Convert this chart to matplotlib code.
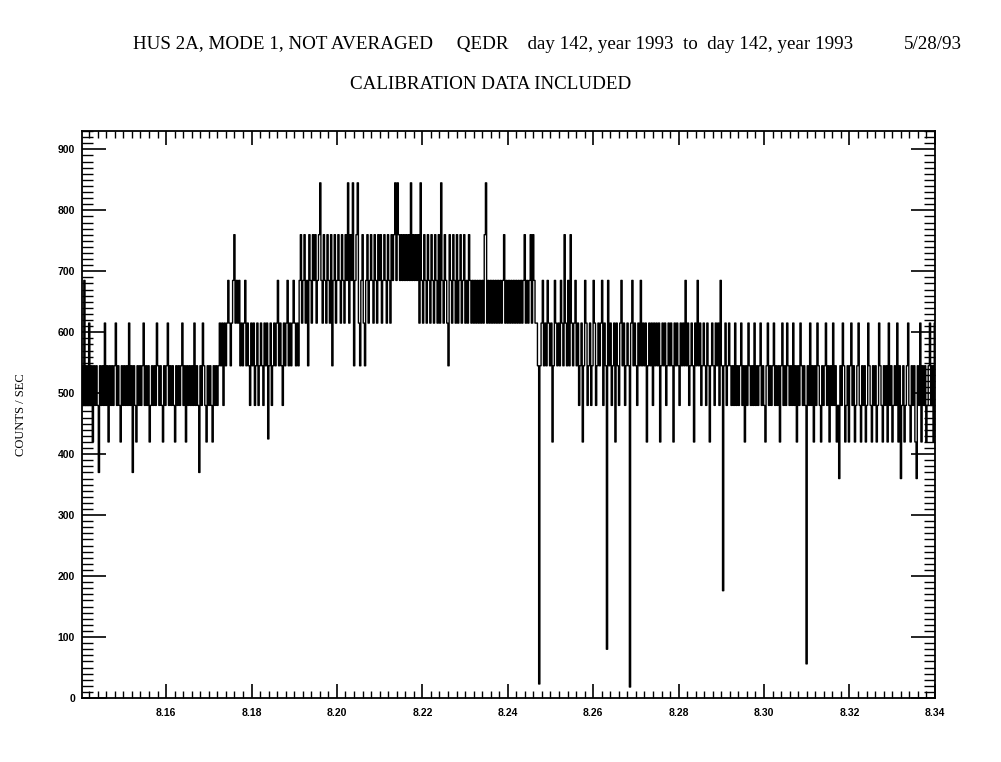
# hus_qedr_plot.py
# HUS 2A count rate, day 142 1993 (calibration data included)

import numpy as np
import matplotlib
matplotlib.use("Agg")
import matplotlib.pyplot as plt
from matplotlib.ticker import MultipleLocator

# time range of the pass (hours of day, as on the x axis)
t_start = 8.1403
t_end = 8.340

# counts/sec, split by stretch of the pass
seg_a = [545,480,685,480,545,480,615,480,545,420,545,480,545,480,370,545,480,545,480,615,
         480,545,420,545,480,545,480,545,615,480,545,480,420,545,480,545,480,545,480,615,
         480,545,370,545,480,420,545,480,545,480,545,615,480,545,480,545,420,480,545,480,
         545,480,615,545,480,545,480,420,545,480,545,615,480,545,480,545,480,420,545,480,
         545,480,545,615,480,545,420,545,480,545,480,545,480,615,480,545,480,370,545,480,
         615,545,480,420,545,480,545,480,420,545,480,545,480]
seg_b = [545,615,545,615,480,615,545,615,685,615,545,615,685,760,615,685,615,685,545,615,
         545,615,685,545,615,545,480,615,545,615,480,545,615,480,545,615,545,480,615,545,
         615,425,545,615,480,545,615,545,615,685,545,615,545,480,615,545,615,685,545,615,
         545,615,685,615,545]
seg_c = [615,545,685,760,615,685,760,615,685,545,760,685,615,760,685,760,615,685,760,845,
         685,615,760,685,615,760,685,615,760,545,685,760,615,685,760,685,615,760,685,615,
         760,685,845,615,760,685,845,545,685,760,845,615,545,685,760,615,545,685,760,615,
         685,760,685,615,760,685,615,760,685,760,615,685,760,685,615,760,685,615,760,685,
         760,845,685,845,760,685,760,685,760,685,760,685]
seg_d = [760,685,845,685,760,685,760,685,760,615,845,685,615,760,685,615,760,685,615,760,
         685,615,760,685,615,760,615,845,685,615,760,685,615,545,760,685,615,760,685,615,
         760,615,685,760,615,685,760,615,685,615,760,685,615,685]
seg_e = [615,685,615,685,615,685,615,685,615,760,845,615,685,615,685,615,685,615,685,615,
         685,615,685,615,685,760,615,685,615,685,615,685,615,685,615,685,615,685,615,685,
         615,685,760,615,685,615,685,760,615,760,685,615]
seg_f = [615,545,23,545,615,685,545,615,545,685,615,545,615,420,545,685,615,545,615,545,
         685,615,545,760,615,545,685,545,760,615,545,615,685,545,615,480,545,615,420,545,
         685,615,480,545,615,480,545,685,615,480,545,615]
seg_g = [545,615,685,480,615,545,80,685,545,615,480,545,615,420,615,545,480,615,685,545,
         615,480,545,615,545,18,615,685,545,615,545,480,615,545,685,545,615,545,615,420,
         545,615,545,615,480,615,545,615,545,615,420,545,615,545,615,480,545,615,545,615,
         545,420,615,545,615,545,480,615,545,615,545,685,545,615,480,545,615,545,420,615,
         545,685,545,615,480,545,615,545,480,615,545,420,545,615,545,480,615,545,615,480,
         685,545,176,545,615,480,545,615,545,480]
seg_h = [545,480,615,480,545,480,545,615,480,545,420,545,480,615,545,480,545,480,615,480,
         545,480,545,615,480,545,480,420,545,615,480,545,480,545,615,480,545,480,545,420,
         545,615,480,545,480,615,545,480,545,480,615,480,545,420,545,480,615,545,480,545,
         480,56,545,480,615,480,545,420,545,480,615,545,480,420,545,480,545,615,480,545,
         420,545,480,615,480,545,420,480,360,545,480,615,545,420,480,545,420,545,615,480,
         545,420,480,545,615,480,420,545,480,545,420,480,615,545,480,420,545,480,545,420,
         480,615,545,480,420,545,480,545,420,615,480,545,420,480,545,480,615,420,545,360,
         480,545,420,480,545,615,480,420,545,480,545,420,360,545,480,615,420,545,480,545,
         420,480,545,615,480,545,420,615]

x_ticks = [8.16, 8.18, 8.20, 8.22, 8.24, 8.26, 8.28, 8.30, 8.32, 8.34]
y_ticks = [0, 100, 200, 300, 400, 500, 600, 700, 800, 900]

counts = np.array(seg_a + seg_b + seg_c + seg_d + seg_e + seg_f + seg_g + seg_h, dtype=float)
hours = np.linspace(t_start, t_end, len(counts))

fig = plt.figure(figsize=(10.01, 7.62), dpi=100)
ax = fig.add_axes([0.0819, 0.084, 0.852, 0.744])

# samples are drawn as vertical strokes, like the original strip plot
ax.plot(hours, counts, color="black", lw=1.0, drawstyle="steps-mid")
ax.set_xlim(t_start, t_end)
ax.set_ylim(0, 930)

ax.set_xticks(x_ticks)
ax.set_xticklabels(["%.2f" % v for v in x_ticks])
ax.set_yticks(y_ticks)
ax.xaxis.set_minor_locator(MultipleLocator(0.002))
ax.yaxis.set_minor_locator(MultipleLocator(10))
ax.tick_params(which="both", direction="in", top=True, right=True, color="black")
ax.tick_params(axis="y", which="major", length=17, width=1.2, pad=5)
ax.tick_params(axis="y", which="minor", length=8, width=1.0)
ax.tick_params(axis="x", which="major", length=10, width=1.2, pad=7)
ax.tick_params(axis="x", which="minor", length=5, width=1.0)
for lab in ax.get_xticklabels() + ax.get_yticklabels():
    lab.set_fontfamily("Liberation Sans")
    lab.set_fontweight("bold")
    lab.set_fontsize(7.5)
for sp in ax.spines.values():
    sp.set_linewidth(1.3)

ax.set_ylabel("COUNTS / SEC", family="Liberation Serif", fontsize=9, labelpad=22)

fig.text(0.133, 0.942, "HUS 2A, MODE 1, NOT AVERAGED     QEDR    day 142, year 1993  to  day 142, year 1993",
         family="Liberation Serif", fontsize=13.7, ha="left", va="center")
fig.text(0.961, 0.942, "5/28/93", family="Liberation Serif", fontsize=13.7, ha="right", va="center")
fig.text(0.49, 0.889, "CALIBRATION DATA INCLUDED", family="Liberation Serif", fontsize=13.7,
         ha="center", va="center")

fig.savefig("out.png", dpi=100)
